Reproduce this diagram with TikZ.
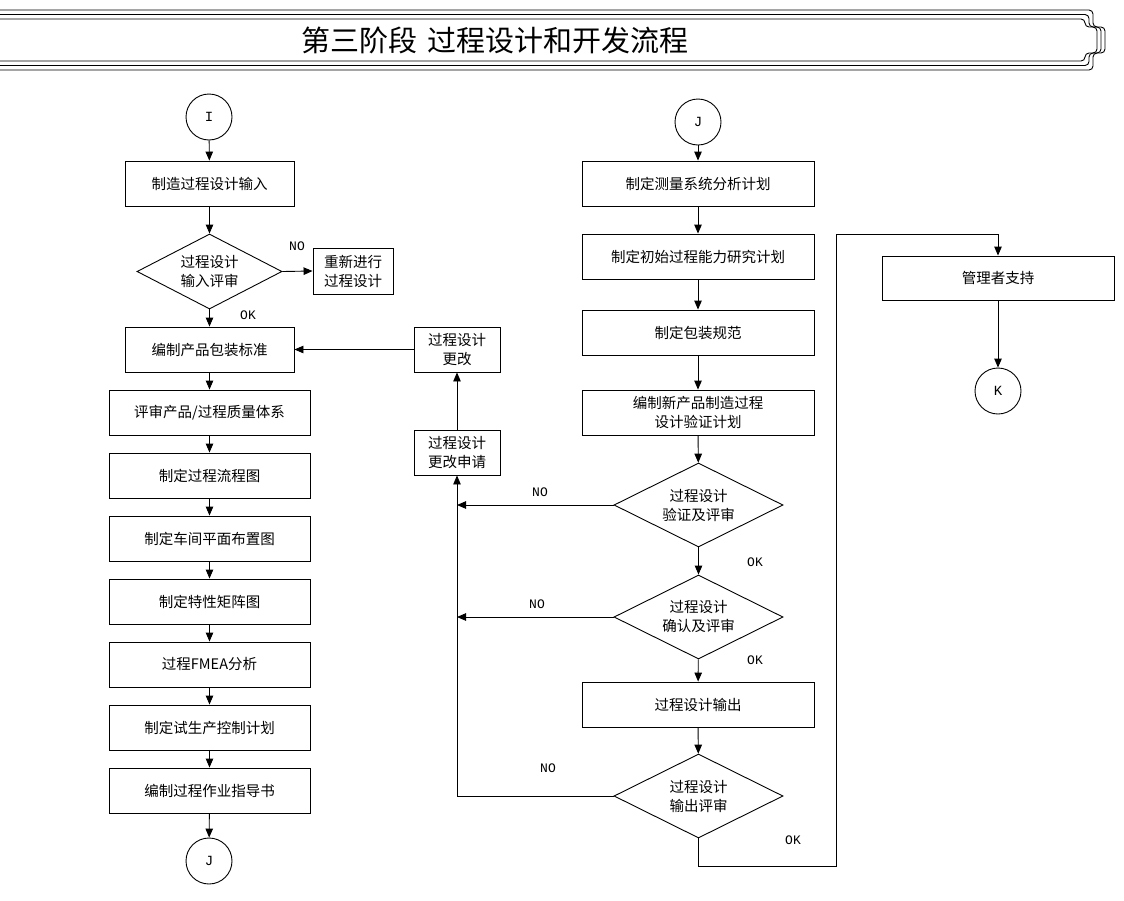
\documentclass[tikz,border=0pt]{standalone}
\usepackage{fontspec}
\setmainfont{Liberation Serif}
\newfontfamily\cjk{Noto Sans CJK SC}
\newfontfamily\mono{Liberation Mono}
\usetikzlibrary{arrows.meta,shapes.geometric}

\begin{document}
\begin{tikzpicture}[x=1pt,y=-1pt,
  font=\cjk\fontsize{14.5}{19}\selectfont,
  proc/.style={draw,line width=0.9pt,minimum width=#1,minimum height=45pt,inner sep=0pt,align=center},
  proc/.default=169pt,
  decide/.style={draw,diamond,shape aspect=2,line width=0.9pt,minimum width=#1,minimum height=84pt,inner sep=0pt,align=center},
  decide/.default=169pt,
  conn/.style={draw,circle,line width=0.9pt,minimum size=46pt,inner sep=0pt,font=\mono\fontsize{14}{14}\selectfont},
  edge/.style={-{Triangle[length=9pt,width=7.5pt]},line width=0.9pt},
  rule/.style={line width=0.9pt,rounded corners=4pt},
  lbl/.style={font=\mono\fontsize{13}{13}\selectfont,inner sep=0pt}
]
\useasboundingbox (0,0) rectangle (1124,900);

\foreach \yt/\yb/\xe in {19/61/1085,14.5/65.5/1089,10/70/1093}
  {\draw[rule] (0,\yt) -- (\xe,\yt) -- (\xe,27) -- (\xe+12,27) -- (\xe+12,53) -- (\xe,53) -- (\xe,\yb) -- (0,\yb);}
\node (title) at (495,40) {\fontsize{29}{29}\selectfont 第三阶段\hspace{10pt}过程设计和开发流程};

\node[conn] (startI) at (209,117) {I};
\node[proc] (input) at (209.5,183.5) {制造过程设计输入};
\node[decide=145pt,minimum height=75pt] (inrev) at (209.5,271.5) {过程设计\\输入评审};
\node[proc=80pt,minimum height=46pt] (redo) at (353,271) {重新进行\\过程设计};
\node[proc] (pack) at (209.5,349.5) {编制产品包装标准};
\node[proc=201pt] (quality) at (209.5,412.5) {评审产品/过程质量体系};
\node[proc=201pt] (flow) at (209.5,475.5) {制定过程流程图};
\node[proc=201pt] (layout) at (209.5,538.5) {制定车间平面布置图};
\node[proc=201pt] (matrix) at (209.5,601.5) {制定特性矩阵图};
\node[proc=201pt] (fmea) at (209.5,664.5) {过程FMEA分析};
\node[proc=201pt] (trial) at (209.5,727.5) {制定试生产控制计划};
\node[proc=201pt] (instr) at (209.5,790.5) {编制过程作业指导书};
\node[conn] (endJ) at (209,861) {J};

\node[proc=86pt] (change) at (457,349.5) {过程设计\\更改};
\node[proc=86pt] (request) at (457,452.5) {过程设计\\更改申请};

\node[conn] (startJ) at (698,122) {J};
\node[proc=232pt] (msa) at (698,183.5) {制定测量系统分析计划};
\node[proc=232pt] (capab) at (698,256.5) {制定初始过程能力研究计划};
\node[proc=232pt] (packspec) at (698,332.5) {制定包装规范};
\node[proc=232pt] (dvplan) at (698,412.5) {编制新产品制造过程\\设计验证计划};
\node[decide] (verify) at (698.5,505) {过程设计\\验证及评审};
\node[decide] (confirm) at (698.5,617) {过程设计\\确认及评审};
\node[proc=232pt] (output) at (698,704.5) {过程设计输出};
\node[decide] (outrev) at (698.5,796) {过程设计\\输出评审};

\node[proc=232pt,minimum height=44pt] (mgmt) at (998,278) {管理者支持};
\node[conn] (endK) at (998,391) {K};
\coordinate (loopb) at (836,866);
\coordinate (loopt) at (836,234);

\foreach \a/\b in {startI/input,input/inrev,inrev/pack,pack/quality,quality/flow,flow/layout,layout/matrix,matrix/fmea,fmea/trial,trial/instr,instr/endJ}
  {\draw[edge] (\a) -- (\b);}
\foreach \a/\b in {startJ/msa,msa/capab,capab/packspec,packspec/dvplan,dvplan/verify,verify/confirm,confirm/output,output/outrev,mgmt/endK}
  {\draw[edge] (\a) -- (\b);}

\draw[edge] (inrev.east) -- (redo.west);
\draw[edge] (request) -- (change);
\draw[edge] (change) -- (pack);
\draw[edge] (outrev.west) -| (request.south);
\draw[edge] (verify.west) -- (verify.west -| request.south);
\draw[edge] (confirm.west) -- (confirm.west -| request.south);
\draw[edge] (outrev.south) |- (loopb) -- (loopt) -| (mgmt.north);

\node[lbl] at (297,246) {NO};
\node[lbl] at (248,315) {OK};
\node[lbl] at (540,492) {NO};
\node[lbl] at (755,562) {OK};
\node[lbl] at (537,604) {NO};
\node[lbl] at (755,660) {OK};
\node[lbl] at (548,768) {NO};
\node[lbl] at (793,840) {OK};
\end{tikzpicture}
\end{document}
